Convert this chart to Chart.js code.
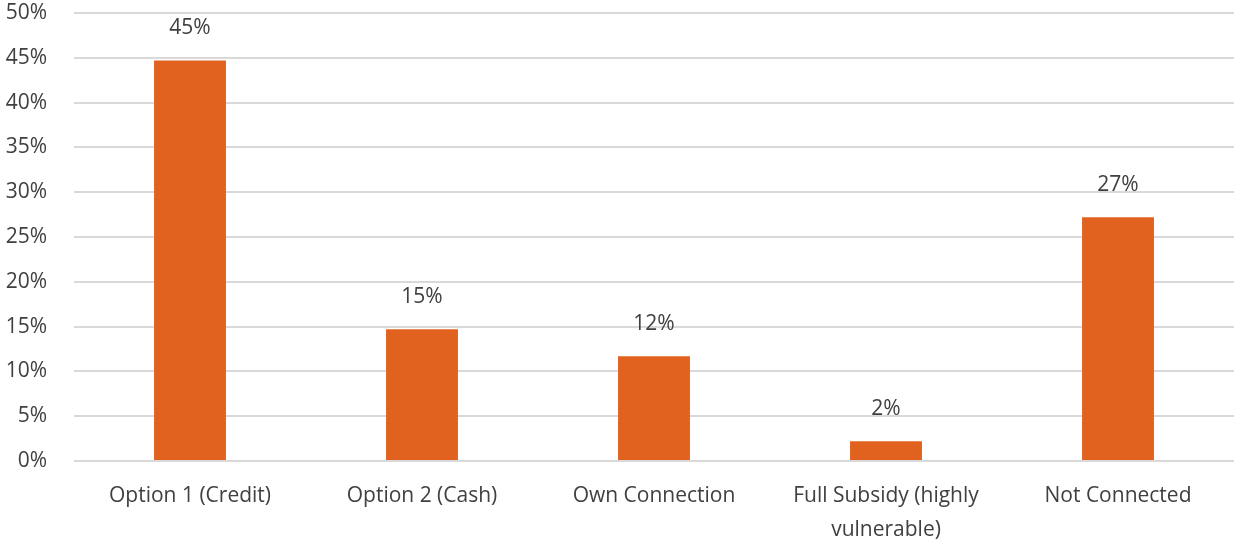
<!DOCTYPE html>
<html>
<head>
<meta charset="utf-8">
<script src="https://cdn.jsdelivr.net/npm/chart.js@4/dist/chart.umd.min.js"></script>
<style>
  html, body { margin: 0; padding: 0; background: #fff; }
  #wrap { width: 1235px; height: 541px; position: relative; }
</style>
</head>
<body>
<div id="wrap"><canvas id="chart"></canvas></div>
<script>
const categories = [
  'Option 1 (Credit)',
  'Option 2 (Cash)',
  'Own Connection',
  ['Full Subsidy (highly', 'vulnerable)'],
  'Not Connected'
];
const shares = [44.7, 14.7, 11.7, 2.2, 27.2];
const yTicks = [0, 5, 10, 15, 20, 25, 30, 35, 40, 45, 50];

const textColor = '#404040';
const barColor = '#E0621E';
const fontFamily = '"Open Sans"';
const fontSize = 21;

// value labels above each bar
const valueLabels = {
  id: 'valueLabels',
  afterDatasetsDraw(chart) {
    const { ctx } = chart;
    const meta = chart.getDatasetMeta(0);
    ctx.save();
    ctx.fillStyle = textColor;
    ctx.font = fontSize + 'px ' + fontFamily;
    ctx.textAlign = 'center';
    ctx.textBaseline = 'middle';
    meta.data.forEach((bar, i) => {
      ctx.fillText(Math.round(shares[i]) + '%', bar.x, bar.y - 32);
    });
    ctx.restore();
  }
};

new Chart(document.getElementById('chart'), {
  type: 'bar',
  data: {
    labels: categories,
    datasets: [{
      data: shares,
      backgroundColor: barColor,
      categoryPercentage: 1,
      barPercentage: 0.31
    }]
  },
  options: {
    responsive: true,
    maintainAspectRatio: false,
    animation: false,
    layout: { autoPadding: false, padding: { top: 13, right: 1, left: 0, bottom: 0 } },
    plugins: { legend: { display: false }, tooltip: { enabled: false } },
    scales: {
      y: {
        min: 0,
        max: 50,
        afterBuildTicks(axis) { axis.ticks = yTicks.map(v => ({ value: v })); },
        afterFit(axis) {
          axis.width = 74;
          axis.paddingTop = 0;
          axis.paddingBottom = 0;
        },
        grid: { color: '#d9d9d9', lineWidth: 2, drawTicks: false },
        border: { display: false },
        ticks: {
          color: textColor,
          font: { family: fontFamily, size: fontSize },
          padding: 27,
          callback: v => v + '%'
        }
      },
      x: {
        afterFit(axis) { axis.height = 80; },
        grid: { display: false },
        border: { display: false },
        ticks: {
          color: textColor,
          font: { family: fontFamily, size: fontSize, lineHeight: 1.62 },
          padding: 10,
          maxRotation: 0,
          autoSkip: false
        }
      }
    }
  },
  plugins: [valueLabels]
});
</script>
</body>
</html>
